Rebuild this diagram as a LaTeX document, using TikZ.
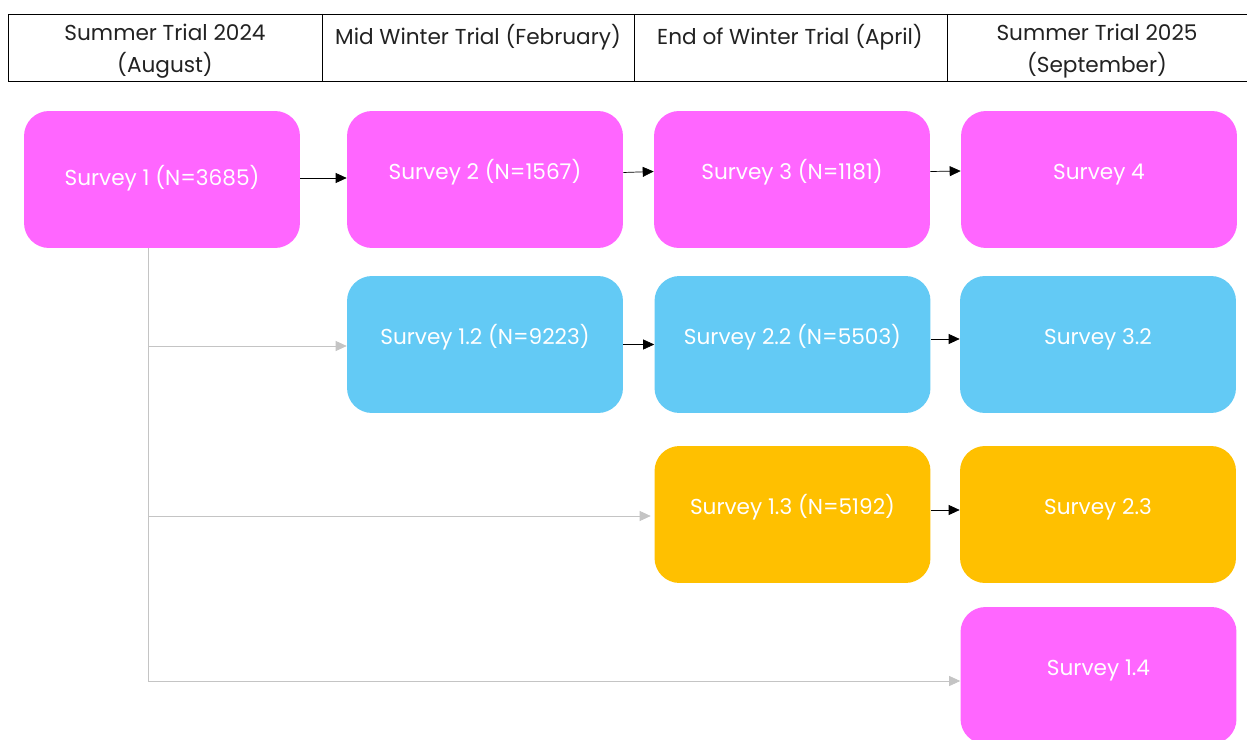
\documentclass[tikz,border=0pt]{standalone}
\usepackage{fontspec}
\setmainfont{Poppins}
\usetikzlibrary{arrows.meta}
\definecolor{surveypink}{HTML}{FF66FF}
\definecolor{surveyblue}{HTML}{63CAF5}
\definecolor{surveygold}{HTML}{FFC000}
\definecolor{linkgray}{HTML}{C4C4C4}
\definecolor{headink}{HTML}{222222}
\tikzset{
	survey/.style={rounded corners=0.5cm, minimum width=5.52cm, minimum height=2.74cm,
		text=white, font=\fontsize{12.3}{14}\selectfont, text height=3.6mm, text depth=1mm},
	raised/.style={text depth=3.6mm},
	period/.style={anchor=north, align=center, text=headink, font=\fontsize{12.3}{18.2}\selectfont},
	link/.style={-{Triangle[length=2.2mm,width=2mm]}, thin},
	branch/.style={-{Triangle[length=2.2mm,width=2mm]}, linkgray, thin}
}
\begin{document}
\begin{tikzpicture}[x=0.02cm, y=-0.02cm]
	\useasboundingbox (0,0) rectangle (1247,740);
	\fill[white] (0,0) rectangle (1247,740);
	% header
	\draw[thin] (1247,14) -- (8,14) -- (8,81) -- (1247,81);
	\foreach \xd in {322,634,947}
		\draw[thin] (\xd,14) -- (\xd,81);
	\node[period] (p1) at (165,18) {Summer Trial 2024\\(August)};
	\node[period] (p2) at (478,18) {Mid Winter Trial (February)};
	\node[period] (p3) at (790,18) {End of Winter Trial (April)};
	\node[period] (p4) at (1097,18) {Summer Trial 2025\\(September)};
	% surveys
	\node[survey, fill=surveypink] (s1) at (162,179.5) {Survey 1 (N=3685)};
	\node[survey, raised, fill=surveypink] (s2) at (485,179.5) {Survey 2 (N=1567)};
	\node[survey, raised, fill=surveypink] (s3) at (792,179.5) {Survey 3 (N=1181)};
	\node[survey, raised, fill=surveypink] (s4) at (1099,179.5) {Survey 4};
	\node[survey, raised, fill=surveyblue] (s12) at (485,344.5) {Survey 1.2 (N=9223)};
	\node[survey, raised, fill=surveyblue] (s22) at (792.5,344.5) {Survey 2.2 (N=5503)};
	\node[survey, raised, fill=surveyblue] (s32) at (1098,344.5) {Survey 3.2};
	\node[survey, raised, fill=surveygold] (s13) at (792.5,514.5) {Survey 1.3 (N=5192)};
	\node[survey, raised, fill=surveygold] (s23) at (1098,514.5) {Survey 2.3};
	\node[survey, raised, fill=surveypink] (s14) at (1098.5,675.5) {Survey 1.4};
	% follow-ups
	\draw[link] ([yshift=0.3mm]s1.east) -- ([yshift=0.3mm]s2.west);
	\draw[link] ([yshift=1.4mm]s2.east) -- ([yshift=1.6mm]s3.west);
	\draw[link] ([yshift=1.6mm]s3.east) -- ([yshift=1.7mm]s4.west);
	\draw[link] (s12) -- (s22);
	\draw[link] ([yshift=1.1mm]s22.east) -- ([yshift=1.1mm]s32.west);
	\draw[link] ([yshift=0.9mm]s13.east) -- ([yshift=0.9mm]s23.west);
	% new cohorts
	\coordinate (trunk) at (148,248);
	\draw[branch] (trunk) |- ([yshift=-0.3mm]s12.west);
	\draw[branch, shorten >=5\pgflinewidth] (trunk) |- ([yshift=-0.3mm]s13.west);
	\draw[branch] (trunk) |- ([yshift=-1.1mm]s14.west);
\end{tikzpicture}
\end{document}
